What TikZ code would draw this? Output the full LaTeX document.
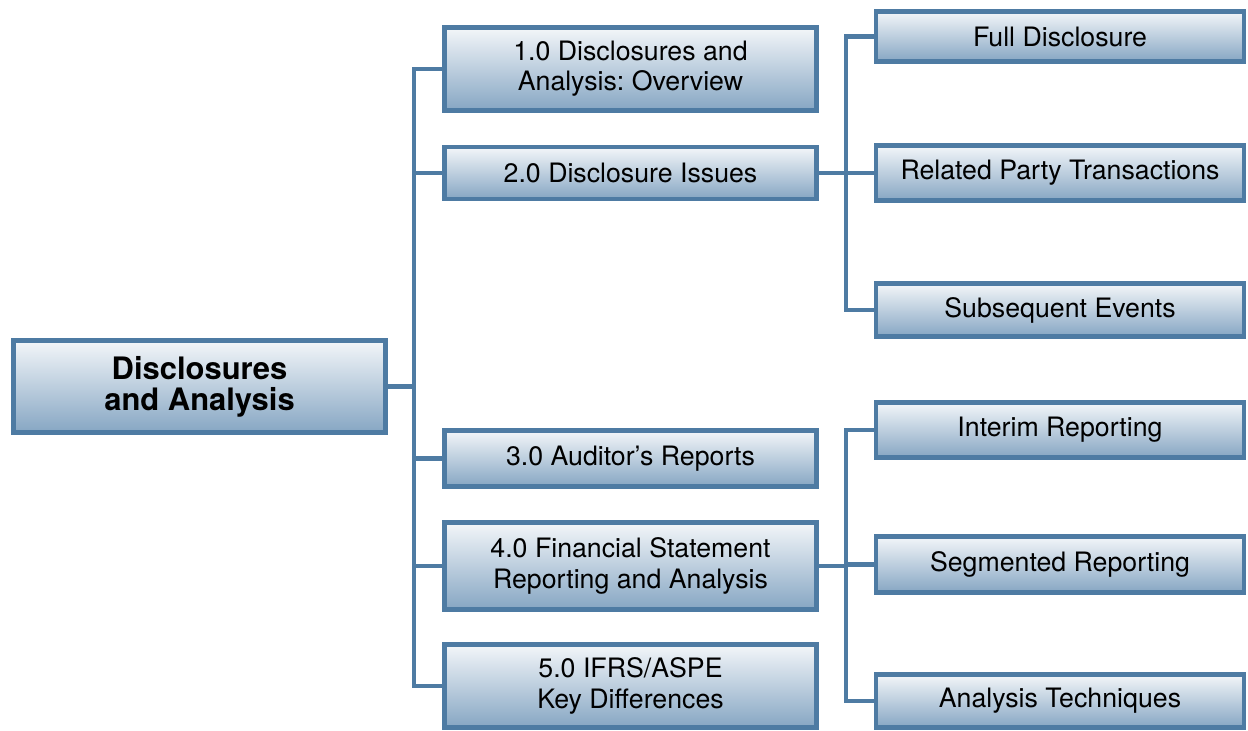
\documentclass[tikz,border=0pt]{standalone}
\usepackage{fontspec}
\setmainfont{TeX Gyre Heros}
\usepackage{xcolor}

\definecolor{boxedge}{HTML}{4E7BA3}
\definecolor{boxtop}{HTML}{F3F6F9}
\definecolor{boxbottom}{HTML}{86A6C3}

\begin{document}
\begin{tikzpicture}[x=0.025cm, y=-0.025cm,
    box/.style={draw=boxedge, line width=3.4pt, rectangle, top color=boxtop, bottom color=boxbottom,
        minimum width=9.3cm, align=center, inner sep=0pt, font=\fontsize{19}{21.5}\selectfont},
    sub/.style={box, minimum width=9.2cm},
    link/.style={draw=boxedge, line width=2.9pt}]
    \useasboundingbox (0,0) rectangle (1248,730);

    % Entities
    \node[box, minimum height=2.3cm, font=\fontsize{22}{22}\selectfont\bfseries] (main) at (199.5,386.5) {Disclosures\\and Analysis};
    \node[box, minimum height=2.07cm] (overview) at (630.5,69) {1.0 Disclosures and\\Analysis:\ Overview};
    \node[box, minimum height=1.3cm] (issues) at (630.5,173) {2.0 Disclosure Issues};
    \node[box, minimum height=1.4cm] (auditor) at (630.5,458.5) {3.0 Auditor’s Reports};
    \node[box, minimum height=2.17cm] (reporting) at (630.5,566) {4.0 Financial Statement\\Reporting and Analysis};
    \node[box, minimum height=2.07cm] (ifrs) at (630.5,686) {5.0 IFRS/ASPE\\Key Differences};

    \node[sub, minimum height=1.25cm] (full) at (1060,36.5) {Full Disclosure};
    \node[sub, minimum height=1.37cm] (related) at (1060,173) {Related Party Transactions};
    \node[sub, minimum height=1.32cm] (subsequent) at (1060,310) {Subsequent Events};
    \node[sub, minimum height=1.37cm] (interim) at (1060,430) {Interim Reporting};
    \node[sub, minimum height=1.4cm] (segmented) at (1060,564.5) {Segmented Reporting};
    \node[sub, minimum height=1.32cm] (techniques) at (1060,701) {Analysis Techniques};

    % Relationships
    \coordinate (trunk) at (414,386.5);
    \coordinate (issuestrunk) at (846,173);
    \coordinate (reportingtrunk) at (846,566);

    \draw[link] (main.east) -- (trunk);
    \draw[link] (overview.west) -| (trunk) |- (ifrs.west);
    \draw[link] (issues.west) -- (issues.west -| trunk);
    \draw[link] (auditor.west) -- (auditor.west -| trunk);
    \draw[link] (reporting.west) -- (reporting.west -| trunk);

    \draw[link] (issues.east) -- (issuestrunk);
    \draw[link] (full.west) -| (issuestrunk) |- (subsequent.west);
    \draw[link] (related.west) -- (related.west -| issuestrunk);

    \draw[link] (reporting.east) -- (reportingtrunk);
    \draw[link] (interim.west) -| (reportingtrunk) |- (techniques.west);
    \draw[link] (segmented.west) -- (segmented.west -| reportingtrunk);
\end{tikzpicture}
\end{document}
